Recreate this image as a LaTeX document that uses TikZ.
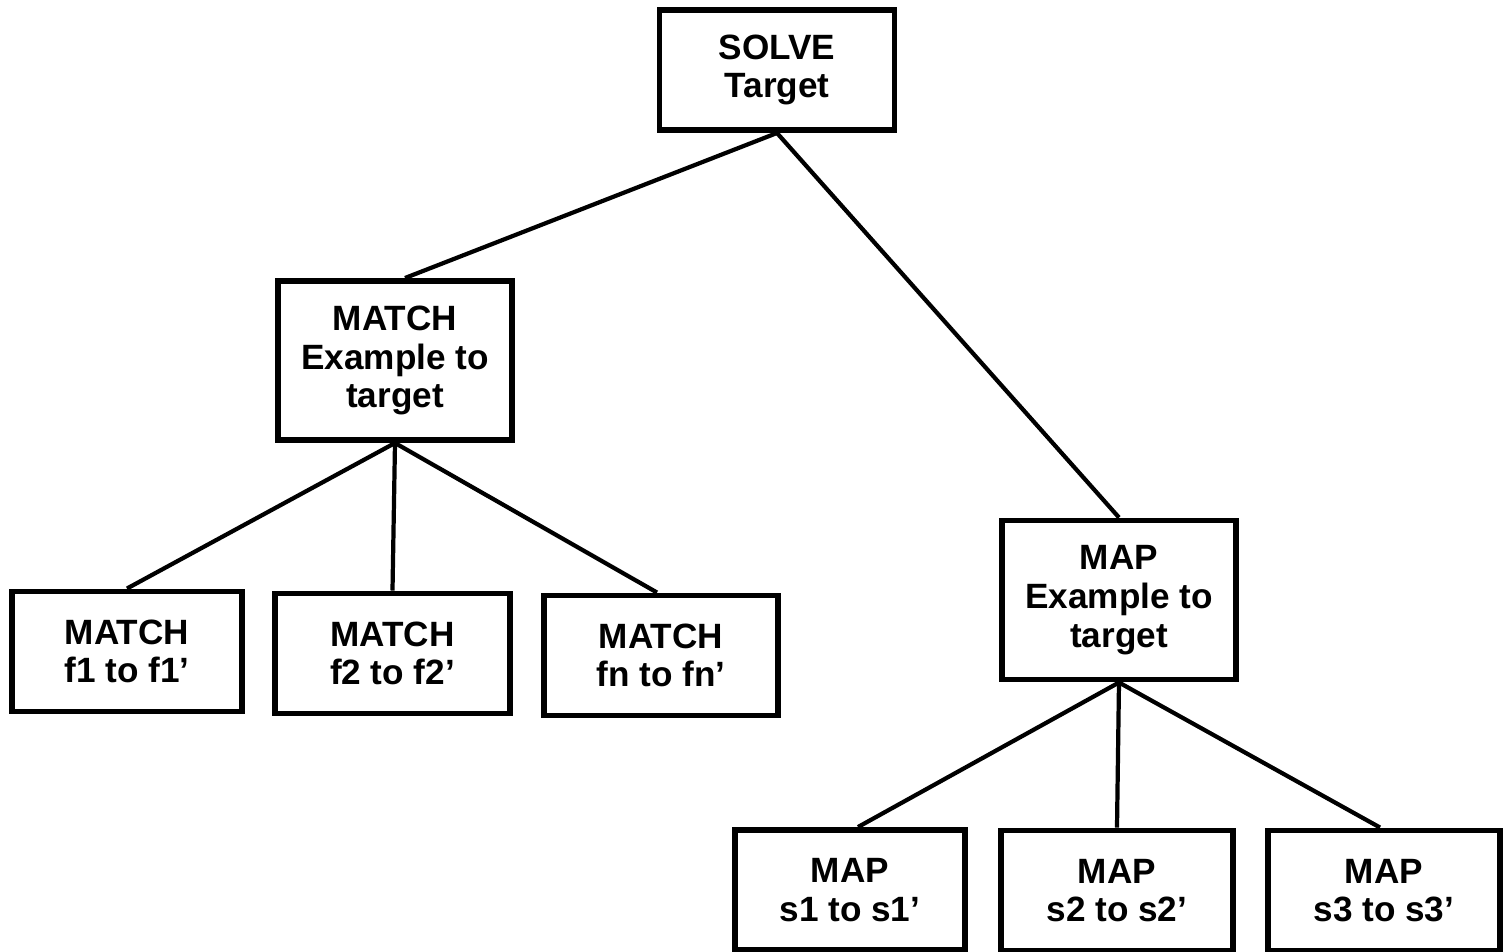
\documentclass[tikz,border=0pt]{standalone}
\usepackage{fontspec}
\setmainfont{Liberation Sans}
\usepackage{tikz}
\usetikzlibrary{positioning}

\begin{document}
\begin{tikzpicture}[
  box/.style={draw=black, line width=1.7pt, align=center, inner sep=0pt,
    font=\fontsize{10}{11}\selectfont\bfseries},
  leaf/.style={box, minimum width=2.30cm, minimum height=1.20cm},
  mid/.style={box, minimum width=2.34cm, minimum height=1.59cm},
  link/.style={line width=1.2pt}
]
%% page size of the scan
\useasboundingbox (0,0) rectangle (15.03,-9.52);
%% top goal
\node[leaf, minimum width=2.35cm] (solve) at (7.77,-0.70) {SOLVE\\Target};
%% the two sub goals
\node[mid] (match) at (3.95,-3.605) {MATCH\\Example to\\target};
\node[mid] (map) at (11.19,-6.00) {MAP\\Example to\\target};
%% features to be matched
\node[leaf] (fone) at (1.27,-6.515) {MATCH\\f1 to f1'};
\node[leaf, minimum width=2.35cm] (ftwo) at (3.925,-6.535) {MATCH\\f2 to f2'};
\node[leaf, minimum width=2.34cm] (fn) at (6.61,-6.555) {MATCH\\fn to fn'};
%% structures to be mapped
\node[leaf] (sone) at (8.50,-8.90) {MAP\\s1 to s1'};
\node[leaf, minimum width=2.32cm] (stwo) at (11.17,-8.905) {MAP\\s2 to s2'};
\node[leaf, minimum width=2.32cm] (sthree) at (13.84,-8.905) {MAP\\s3 to s3'};
%% the tree lines
\draw[link] (solve.south) -- ([xshift=1mm]match.north);
\draw[link] (solve.south) -- (map.north);
\draw[link] (match.south) -- (fone.north);
\draw[link] (match.south) -- (ftwo.north);
\draw[link] (match.south) -- ([xshift=-0.4mm]fn.north);
\draw[link] (map.south) -- ([xshift=0.8mm]sone.north);
\draw[link] (map.south) -- (stwo.north);
\draw[link] (map.south) -- ([xshift=-0.4mm]sthree.north);
\end{tikzpicture}
\end{document}
